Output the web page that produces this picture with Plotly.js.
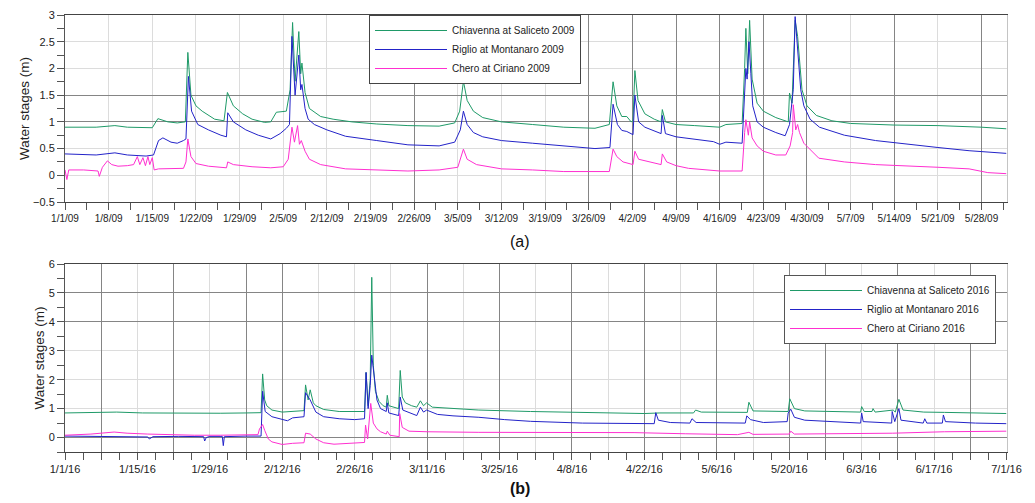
<!DOCTYPE html>
<html>
<head>
<meta charset="utf-8">
<script src="https://cdn.plot.ly/plotly-3.0.1.min.js"></script>
<style>html,body{margin:0;padding:0;background:#fff;}#chart{width:1035px;height:503px;}</style>
</head>
<body>
<div id="chart"></div>
<script>
// ---------- DATA (days since 1 Jan of each year, water stage in m) ----------
const chiavenna09Day = [
  0, 5, 8, 10, 14, 14.9, 16.5, 18, 19.3, 19.7,
  20.2, 21, 22, 24, 25.5, 26.05, 27, 28.5, 30, 32,
  33.0, 33.9, 35.5, 36.1, 36.5, 36.9, 37.5, 37.8, 38.0, 38.5,
  39.2, 41, 43, 46, 50, 55, 60, 62.5, 63.3, 63.9,
  64.5, 65.5, 67, 70, 75, 80, 85, 87.3, 87.9, 88.5,
  89.3, 90.1, 90.8, 91.1, 91.4, 91.9, 93, 94.5, 95.6, 95.8,
  96.3, 98, 101, 105, 106, 108.6, 109.0, 109.2, 109.5, 109.8,
  110.2, 111, 112, 114, 116, 116.2, 116.6, 117.1, 117.5, 118.2,
  119, 120.5, 123, 126, 133, 140, 147, 151];
const chiavenna09Stage = [
  0.9, 0.9, 0.93, 0.9, 0.89, 1.06, 1.0, 0.98, 1.0, 2.3,
  1.5, 1.3, 1.2, 1.05, 1.02, 1.55, 1.3, 1.15, 1.05, 0.99,
  1.0, 1.18, 1.2, 1.6, 2.86, 1.76, 2.69, 1.9, 2.1, 1.55,
  1.25, 1.1, 1.05, 1.0, 0.96, 0.93, 0.92, 0.98, 1.2, 1.76,
  1.4, 1.2, 1.08, 1.0, 0.95, 0.9, 0.88, 0.95, 1.75, 1.3,
  1.1, 1.1, 1.0, 1.02, 1.96, 1.4, 1.15, 1.05, 1.0, 1.23,
  1.0, 0.95, 0.93, 0.9, 0.95, 0.97, 2.0, 2.75, 1.9, 2.9,
  1.8, 1.35, 1.2, 1.08, 1.0, 1.54, 1.35, 2.9, 2.6, 1.6,
  1.3, 1.12, 1.02, 0.97, 0.94, 0.93, 0.9, 0.87];

const riglio09Day = [
  0, 5, 8, 10, 13, 14.2, 15, 15.7, 17, 18,
  19, 19.4, 19.8, 20.3, 21.3, 23, 25, 25.9, 26.1, 27,
  29, 31, 33, 34.5, 35.5, 36, 36.4, 36.9, 37.5, 37.8,
  38.0, 38.5, 39, 40, 42, 45, 50, 55, 60, 62.5,
  63.4, 63.9, 64.5, 65.5, 67, 70, 75, 80, 85, 87.4,
  87.9, 88.6, 89.3, 90.1, 90.8, 91.1, 91.4, 92, 93, 95.6,
  95.8, 96.3, 98, 101, 104, 105, 106, 108.6, 109.0, 109.2,
  109.4, 109.7, 110.0, 110.3, 111, 112, 114, 115.5, 116.2, 116.8,
  117.1, 117.5, 118.0, 118.5, 119.5, 121, 125, 130, 135, 140,
  145, 151];
const riglio09Stage = [
  0.4, 0.38, 0.42, 0.38, 0.36, 0.38, 0.65, 0.7, 0.62, 0.6,
  0.65, 0.68, 1.85, 1.2, 0.95, 0.85, 0.75, 0.72, 1.17, 1.0,
  0.85, 0.75, 0.68, 0.78, 0.88, 0.95, 2.6, 1.5, 2.25, 1.6,
  1.7, 1.25, 1.05, 0.95, 0.85, 0.73, 0.65, 0.57, 0.55, 0.62,
  0.85, 1.2, 0.95, 0.8, 0.72, 0.65, 0.6, 0.55, 0.5, 0.52,
  1.33, 0.95, 0.84, 0.82, 0.77, 0.76, 1.5, 1.0, 0.9, 0.78,
  1.12, 0.78, 0.72, 0.68, 0.63, 0.58, 0.62, 0.6, 1.6, 2.0,
  1.8, 2.5, 1.9, 1.3, 1.0, 0.9, 0.8, 0.74, 0.95, 1.6,
  2.97, 2.3, 1.6, 1.3, 1.05, 0.9, 0.75, 0.65, 0.58, 0.52,
  0.46, 0.41];

const chero09Day = [
  0, 0.3, 0.6, 3, 5.3, 5.5, 6, 6.8, 7.5, 8.5,
  10, 11, 11.6, 12, 12.5, 12.9, 13.3, 13.6, 14, 14.3,
  15, 19, 19.4, 19.7, 20.2, 21, 23, 25.9, 26.1, 27,
  30, 33, 35, 35.8, 36.4, 36.8, 37.3, 37.6, 37.9, 38.5,
  39.2, 41, 45, 50, 55, 60, 63, 63.9, 64.5, 66,
  70, 75, 80, 87.3, 87.9, 88.5, 89.5, 91.1, 91.4, 92,
  94, 95.6, 95.8, 96.5, 98, 100, 105, 108.6, 109.0, 109.2,
  109.6, 109.8, 110.2, 111, 112, 114, 115.6, 116.3, 116.7, 116.8,
  117.2, 117.5, 117.8, 118.5, 120.9, 122, 125, 130, 135, 140,
  145, 148, 151];
const chero09Stage = [
  0.1, -0.08, 0.1, 0.1, 0.08, -0.02, 0.15, 0.27, 0.2, 0.17,
  0.18, 0.2, 0.35, 0.2, 0.33, 0.18, 0.35, 0.2, 0.33, 0.1,
  0.12, 0.13, 0.25, 0.68, 0.35, 0.22, 0.17, 0.14, 0.25, 0.2,
  0.16, 0.14, 0.16, 0.3, 0.9, 0.62, 0.93, 0.58, 0.65, 0.45,
  0.3, 0.2, 0.12, 0.1, 0.08, 0.1, 0.15, 0.49, 0.3, 0.2,
  0.12, 0.1, 0.07, 0.07, 0.49, 0.35, 0.25, 0.2, 0.45, 0.3,
  0.25, 0.2, 0.4, 0.25, 0.18, 0.13, 0.08, 0.08, 0.8, 1.04,
  0.75, 1.0, 0.7, 0.55, 0.45, 0.38, 0.38, 0.55, 0.8, 1.32,
  0.85, 0.95, 0.8, 0.6, 0.32, 0.3, 0.25, 0.2, 0.18, 0.15,
  0.12, 0.05, 0.03];

const chiavenna16Day = [
  0, 5, 10, 15, 20, 25, 30, 35, 37.9, 38.2,
  38.6, 39, 40, 42, 44, 46.2, 46.5, 47, 47.4, 48,
  48.5, 50, 53, 56, 57.9, 58.2, 58.6, 59.0, 59.3, 59.6,
  60, 60.7, 61.5, 62.1, 62.3, 62.6, 64.5, 64.8, 65.2, 65.8,
  67, 68, 68.7, 69.3, 69.9, 71, 75, 80, 90, 100,
  112, 115, 121.5, 121.9, 123, 131.9, 132.2, 133, 139.8, 140.1,
  141, 143, 153.8, 154, 154.5, 156, 156.2, 156.6, 160.1, 160.5,
  161.2, 162, 166, 170, 176, 182];
const chiavenna16Stage = [
  0.85, 0.86, 0.88, 0.85, 0.84, 0.85, 0.84, 0.85, 0.86, 2.2,
  1.3, 1.1, 0.95, 0.88, 0.9, 0.93, 1.82, 1.3, 1.65, 1.2,
  1.1, 0.97, 0.9, 0.9, 0.9, 2.25, 1.1, 2.0, 5.54, 2.5,
  1.6, 1.25, 1.1, 1.05, 1.46, 1.1, 1.0, 2.32, 1.4, 1.2,
  1.1, 1.05, 1.27, 1.1, 1.2, 1.05, 1.0, 0.95, 0.9, 0.88,
  0.83, 0.85, 0.85, 0.95, 0.88, 0.87, 1.22, 0.92, 0.9, 1.34,
  1.0, 0.92, 0.88, 1.07, 0.9, 0.9, 1.0, 0.88, 0.95, 0.88,
  1.32, 0.95, 0.88, 0.87, 0.85, 0.83];

const riglio16Day = [
  0, 5, 10, 16, 16.3, 17, 22, 26.8, 27, 27.3,
  28, 30.4, 30.6, 30.8, 35, 37.9, 38.2, 38.7, 40, 42,
  43, 44, 46.2, 46.5, 47.4, 48.5, 50, 53, 56, 57.9,
  58.2, 58.6, 59.0, 59.3, 59.8, 60.3, 61, 62.1, 62.3, 62.6,
  64.5, 64.8, 65.3, 67, 68, 68.7, 69.3, 69.9, 72, 75,
  80, 85, 90, 100, 110, 113.9, 114.2, 114.7, 117, 120.8,
  121.2, 122, 131.5, 131.8, 132.5, 135, 139.6, 139.8, 140.3, 141,
  143, 150, 153.8, 154, 154.3, 159.8, 159.9, 160.4, 161.2, 161.6,
  165.9, 166.2, 166.6, 169.6, 169.8, 170.2, 176, 182];
const riglio16Stage = [
  0.05, 0.04, 0.03, 0.02, -0.05, 0.03, 0.04, 0.03, -0.12, 0.0,
  0.04, 0.04, -0.28, 0.03, 0.05, 0.05, 1.6, 0.9, 0.72, 0.63,
  0.58, 0.68, 0.72, 1.55, 1.3, 0.88, 0.72, 0.65, 0.62, 0.65,
  2.25, 1.0, 1.8, 2.85, 2.0, 1.3, 1.0, 0.9, 1.2, 0.85,
  0.76, 1.4, 0.95, 0.82, 0.76, 1.05, 0.88, 0.95, 0.8, 0.75,
  0.7, 0.62, 0.56, 0.5, 0.48, 0.48, 0.86, 0.6, 0.52, 0.5,
  0.65, 0.52, 0.5, 0.75, 0.62, 0.52, 0.55, 0.85, 0.98, 0.7,
  0.6, 0.52, 0.5, 0.85, 0.55, 0.5, 0.9, 0.55, 1.0, 0.6,
  0.5, 0.65, 0.5, 0.5, 0.78, 0.55, 0.5, 0.48];

const chero16Day = [
  0, 5, 9.5, 12, 16, 20, 25, 30, 35, 37.3,
  37.6, 38.2, 38.6, 39.3, 40, 42, 44, 46.2, 46.5, 47.4,
  48.5, 50, 52, 55, 57.9, 58.1, 58.5, 59.1, 59.6, 60.3,
  61, 62.1, 62.3, 62.8, 64.6, 64.7, 65.2, 66.5, 70, 80,
  90, 100, 110, 120, 130, 132.2, 133, 140, 140.3, 141,
  150, 160, 170, 182];
const chero16Stage = [
  0.08, 0.12, 0.19, 0.15, 0.12, 0.1, 0.08, 0.08, 0.08, 0.1,
  0.3, 0.45, 0.25, -0.05, -0.15, -0.24, -0.2, -0.18, 0.15, 0.12,
  -0.05, -0.18, -0.23, -0.2, -0.17, 0.43, -0.05, 1.18, 0.5, 0.3,
  0.2, 0.12, 0.22, 0.08, 0.03, 0.83, 0.35, 0.22, 0.2, 0.18,
  0.18, 0.17, 0.17, 0.13, 0.1, 0.18, 0.11, 0.12, 0.22, 0.12,
  0.14, 0.15, 0.2, 0.22];

const tickLabels09 = ['1/1/09','1/8/09','1/15/09','1/22/09','1/29/09','2/5/09','2/12/09','2/19/09',
  '2/26/09','3/5/09','3/12/09','3/19/09','3/26/09','4/2/09','4/9/09','4/16/09','4/23/09','4/30/09',
  '5/7/09','5/14/09','5/21/09','5/28/09'];
const tickLabels16 = ['1/1/16','1/15/16','1/29/16','2/12/16','2/26/16','3/11/16','3/25/16','4/8/16',
  '4/22/16','5/6/16','5/20/16','6/3/16','6/17/16','7/1/16'];
const darkGrid09 = ['2/26/09','3/26/09','4/2/09','4/9/09','4/16/09','4/23/09','4/30/09','5/14/09','5/28/09'];
const darkGrid16 = ['1/8/16','1/22/16','2/5/16','2/12/16','3/11/16','3/25/16','4/8/16','4/22/16',
  '5/6/16','5/20/16','5/27/16','6/10/16','6/24/16'];

const seriesNames09 = ['Chiavenna at Saliceto 2009','Riglio at Montanaro 2009','Chero at Ciriano 2009'];
const seriesNames16 = ['Chiavenna at Saliceto 2016','Riglio at Montanaro 2016','Chero at Ciriano 2016'];

// ---------- helpers ----------
const DAY = 86400000;
function toDates(year, days) {
  const base = Date.UTC(year, 0, 1);
  return days.map(d => {
    const iso = new Date(base + d * DAY).toISOString();
    return iso.slice(0, 10) + ' ' + iso.slice(11, 19);
  });
}
function labelToDate(lbl) {
  const p = lbl.split('/');
  return '20' + p[2] + '-' + p[0].padStart(2, '0') + '-' + p[1].padStart(2, '0');
}

const colors = ['#1f9a68', '#2323c8', '#ff2fd0'];
const FONT = '"Liberation Sans", Arial, sans-serif';

function line(name, year, days, vals, color, xa, ya, legend) {
  return {
    type: 'scatter', mode: 'lines', name: name,
    x: toDates(year, days), y: vals,
    xaxis: xa, yaxis: ya, legend: legend,
    line: {color: color, width: 1}, hoverinfo: 'x+y+name'
  };
}

const traces = [
  line(seriesNames09[0], 2009, chiavenna09Day, chiavenna09Stage, colors[0], 'x', 'y', 'legend'),
  line(seriesNames09[1], 2009, riglio09Day, riglio09Stage, colors[1], 'x', 'y', 'legend'),
  line(seriesNames09[2], 2009, chero09Day, chero09Stage, colors[2], 'x', 'y', 'legend'),
  line(seriesNames16[0], 2016, chiavenna16Day, chiavenna16Stage, colors[0], 'x2', 'y2', 'legend2'),
  line(seriesNames16[1], 2016, riglio16Day, riglio16Stage, colors[1], 'x2', 'y2', 'legend2'),
  line(seriesNames16[2], 2016, chero16Day, chero16Stage, colors[2], 'x2', 'y2', 'legend2'),
  {type: 'scatter', x: [], y: [], xaxis: 'x3', yaxis: 'y3', showlegend: false, hoverinfo: 'skip'},
  {type: 'scatter', x: [], y: [], xaxis: 'x4', yaxis: 'y4', showlegend: false, hoverinfo: 'skip'}
];

// bottom chart: weekly major ticks, labels every second week
const weekly16 = [], weeklyText16 = [];
for (let i = 0; i < tickLabels16.length; i++) {
  const d = labelToDate(tickLabels16[i]);
  weekly16.push(d); weeklyText16.push(tickLabels16[i]);
  if (i < tickLabels16.length - 1) {
    const t = new Date(Date.parse(d + 'T00:00:00Z') + 7 * DAY).toISOString().slice(0, 10);
    weekly16.push(t); weeklyText16.push('');
  }
}

const range09 = ['2009-01-01', '2009-06-01'];
const range16 = ['2016-01-01', '2016-07-01'];
const dom09 = [1 - 202 / 503, 1 - 15 / 503];
const dom16 = [1 - 452 / 503, 1 - 264 / 503];
const xdom = [65 / 1035, 1006.5 / 1035];

const tickFont = {family: FONT, size: 10.5, color: '#222'};
const baseX = {
  type: 'date', domain: xdom, showline: true, linecolor: '#444', linewidth: 1, mirror: true,
  ticks: 'outside', ticklen: 7, tickcolor: '#555', tickfont: tickFont,
  gridcolor: '#dcdcdc', gridwidth: 1, zeroline: false, tickmode: 'array', fixedrange: true
};
const baseY = {
  showline: true, linecolor: '#555', linewidth: 1, ticks: 'outside', ticklen: 7, tickcolor: '#555',
  tickfont: {family: FONT, size: 11, color: '#222'}, gridcolor: '#dcdcdc', zeroline: false,
  title: {text: 'Water stages (m)', font: {family: FONT, size: 13.5, color: '#222'}, standoff: 0},
  automargin: false, fixedrange: true
};
const overlayX = {type: 'date', showticklabels: false, ticks: '', showline: false, zeroline: false,
  gridcolor: '#858585', tickmode: 'array', fixedrange: true};
const overlayY = {showticklabels: false, ticks: '', zeroline: false, gridcolor: '#858585',
  side: 'right', showline: true, linecolor: '#c4c4c4', tickmode: 'array', fixedrange: true};

const layout = {
  width: 1035, height: 503, margin: {l: 0, r: 0, t: 0, b: 0},
  paper_bgcolor: '#fff', plot_bgcolor: '#fff', showlegend: true,
  font: {family: FONT, color: '#222'},
  xaxis: Object.assign({}, baseX, {anchor: 'y', range: range09,
    tickvals: tickLabels09.map(labelToDate), ticktext: tickLabels09,
    tickfont: {family: FONT, size: 10, color: '#222'},
    minor: {tickmode: 'linear', tick0: '2009-01-01', dtick: 3.5 * DAY, ticks: 'outside', ticklen: 7,
      tickcolor: '#555', showgrid: false}}),
  yaxis: Object.assign({}, baseY, {anchor: 'x', domain: dom09, range: [-0.5, 3],
    tickmode: 'linear', tick0: 0, dtick: 0.5,
    minor: {tickmode: 'linear', tick0: 0, dtick: 0.25, ticks: 'outside', ticklen: 7, tickcolor: '#555', showgrid: false}}),
  xaxis3: Object.assign({}, overlayX, {overlaying: 'x', anchor: 'y3', domain: xdom, range: range09,
    tickvals: darkGrid09.map(labelToDate)}),
  yaxis3: Object.assign({}, overlayY, {overlaying: 'y', anchor: 'x3', domain: dom09, range: [-0.5, 3],
    tickvals: [1, 1.5]}),
  xaxis2: Object.assign({}, baseX, {anchor: 'y2', range: range16,
    tickvals: weekly16, ticktext: weeklyText16, tickfont: {family: FONT, size: 11, color: '#222'},
    minor: {tickmode: 'linear', tick0: '2016-01-01', dtick: 3.5 * DAY, ticks: 'outside', ticklen: 7,
      tickcolor: '#555', showgrid: false}}),
  yaxis2: Object.assign({}, baseY, {anchor: 'x2', domain: dom16, range: [-0.5, 6],
    tickmode: 'array', tickvals: [0, 1, 2, 3, 4, 5, 6],
    minor: {tickmode: 'linear', tick0: 0, dtick: 0.5, ticks: 'outside', ticklen: 7, tickcolor: '#555', showgrid: false}}),
  xaxis4: Object.assign({}, overlayX, {overlaying: 'x2', anchor: 'y4', domain: xdom, range: range16,
    tickvals: darkGrid16.map(labelToDate)}),
  yaxis4: Object.assign({}, overlayY, {overlaying: 'y2', anchor: 'x4', domain: dom16, range: [-0.5, 6],
    tickvals: [0, 4, 5]}),
  legend: {x: 369 / 1035, y: 1 - 15 / 503, xanchor: 'left', yanchor: 'top',
    bgcolor: '#fff', bordercolor: '#444', borderwidth: 1, itemwidth: 72,
    font: {family: FONT, size: 10, color: '#222'}, tracegroupgap: 0},
  legend2: {x: 784 / 1035, y: 1 - 275 / 503, xanchor: 'left', yanchor: 'top',
    bgcolor: '#fff', bordercolor: '#555', borderwidth: 1, itemwidth: 72,
    font: {family: FONT, size: 10, color: '#222'}, tracegroupgap: 0},
  annotations: [
    {text: '(a)', xref: 'paper', yref: 'paper', x: 520 / 1035, y: 1 - 241 / 503,
      xanchor: 'center', yanchor: 'middle', showarrow: false, font: {family: FONT, size: 16, color: '#111'}},
    {text: '<b>(b)</b>', xref: 'paper', yref: 'paper', x: 520 / 1035, y: 1 - 488 / 503,
      xanchor: 'center', yanchor: 'middle', showarrow: false, font: {family: FONT, size: 16, color: '#111'}}
  ]
};

Plotly.newPlot('chart', traces, layout, {staticPlot: true, displayModeBar: false});
</script>
</body>
</html>
